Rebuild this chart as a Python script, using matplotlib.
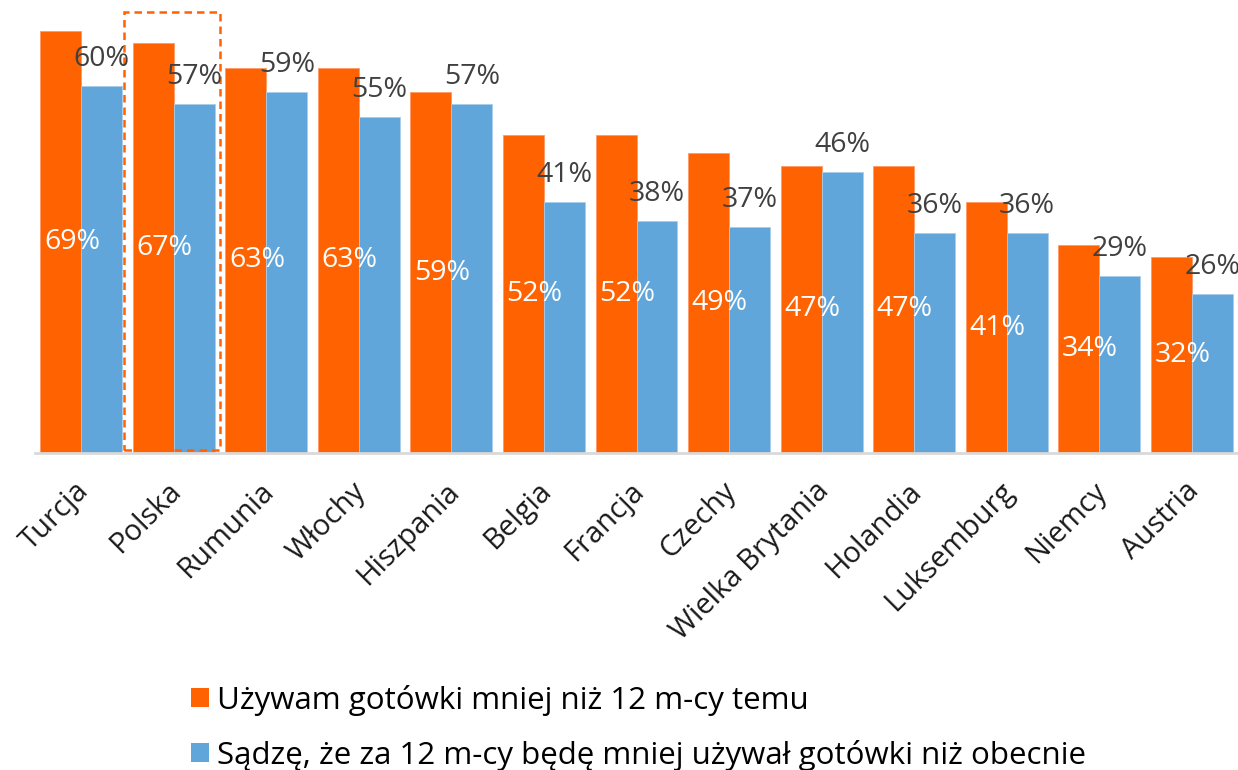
import matplotlib
matplotlib.use("Agg")
import matplotlib.pyplot as plt
import matplotlib.transforms as mtransforms
from matplotlib.patches import Rectangle, Patch
import numpy as np

countries = ["Turcja", "Polska", "Rumunia", "Włochy", "Hiszpania", "Belgia", "Francja",
             "Czechy", "Wielka Brytania", "Holandia", "Luksemburg", "Niemcy", "Austria"]
used_less = [69, 67, 63, 63, 59, 52, 52, 49, 47, 47, 41, 34, 32]
will_use_less = [60, 57, 59, 55, 57, 41, 38, 37, 46, 36, 36, 29, 26]
series_names = ["Używam gotówki mniej niż 12 m-cy temu",
                "Sądzę, że za 12 m-cy będę mniej używał gotówki niż obecnie"]

ORANGE = "#FF6200"
BLUE = "#60A6DA"
FONT = ["Open Sans", "DejaVu Sans"]
plt.rcParams["font.family"] = FONT

W, H = 1238, 770
fig = plt.figure(figsize=(W / 100, H / 100), dpi=100)
ax = fig.add_axes([35 / W, (H - 453) / H, 1203 / W, 453 / H])

x = np.arange(len(countries))
bw = 0.443
ax.bar(x - bw / 2, used_less, bw, color=ORANGE, edgecolor="#FF9a66", linewidth=0.6, zorder=2)
ax.bar(x + bw / 2, will_use_less, bw, color=BLUE, edgecolor="#a9cdea", linewidth=0.6, zorder=2)

ax.set_xlim(-0.5, len(countries) - 0.5)
ax.set_ylim(0, 74.07)

# data labels
for xi, v in zip(x, used_less):
    ax.text(xi - bw / 2 + 0.12, v / 2, f"{v}%", ha="center", va="center",
            color="white", fontsize=20.5, zorder=4)
for xi, v in zip(x, will_use_less):
    ax.annotate(f"{v}%", (xi + bw / 2, v), xytext=(0, 27), textcoords="offset pixels",
                ha="center", va="center", color="#404040", fontsize=20.5, zorder=4)

# baseline
for s in ["top", "right", "left"]:
    ax.spines[s].set_visible(False)
ax.spines["bottom"].set_color("#D9D9D9")
ax.spines["bottom"].set_linewidth(2)
ax.set_yticks([])
ax.tick_params(axis="x", length=0, pad=2)
ax.set_xticks(x)
ax.set_xticklabels(countries, rotation=45, ha="right", rotation_mode="anchor",
                   fontsize=21, color="#1a1a1a")
offset = mtransforms.ScaledTranslation(-7 / 100, -21 / 100, fig.dpi_scale_trans)
for lab in ax.get_xticklabels():
    lab.set_transform(lab.get_transform() + offset)

# highlight box around Polska
ax.add_patch(Rectangle((1 - 0.54, 0.5), 1.04, 71.6, fill=False, edgecolor=ORANGE,
                       linestyle=(0, (3, 2)), linewidth=1.8, zorder=3, clip_on=False))

handles = [Patch(facecolor=ORANGE), Patch(facecolor=BLUE)]
fig.legend(handles, series_names, loc="upper left", bbox_to_anchor=(175 / W, 1 - 669 / H),
           frameon=False, fontsize=22.5, handlelength=0.58, handleheight=0.58,
           handletextpad=0.26, labelspacing=0.77, borderpad=0)

fig.savefig("out.png", dpi=100)
